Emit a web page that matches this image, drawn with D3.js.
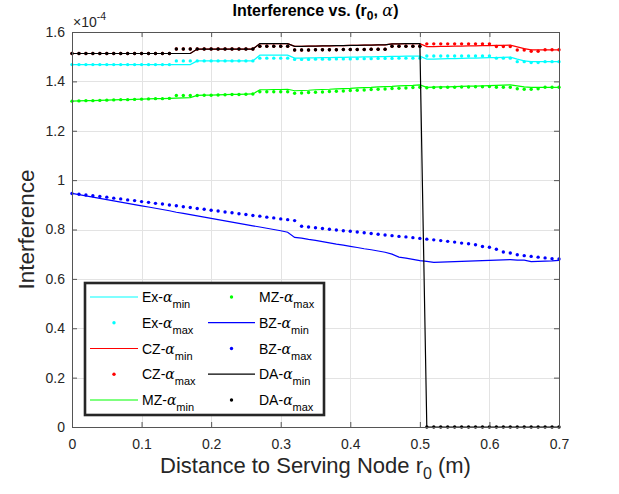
<!DOCTYPE html>
<html>
<head>
<meta charset="utf-8">
<script src="https://cdn.jsdelivr.net/npm/d3@7/dist/d3.min.js"></script>
<style>
  body { margin: 0; background: #fff; }
  svg { display: block; font-family: "Liberation Sans", Arial, Helvetica, sans-serif; }
</style>
</head>
<body>
<div id="chart"></div>
<script>
// distance to serving node r0 (m)
const r0 = [0,0.01,0.02,0.03,0.04,0.05,0.06,0.07,0.08,0.09,0.1,0.11,0.12,0.13,0.14,0.15,0.16,0.17,0.18,0.19,
  0.2,0.21,0.22,0.23,0.24,0.25,0.26,0.27,0.28,0.29,0.3,0.31,0.32,0.33,0.34,0.35,0.36,0.37,0.38,0.39,
  0.4,0.41,0.42,0.43,0.44,0.45,0.46,0.47,0.48,0.49,0.5,0.51,0.52,0.53,0.54,0.55,0.56,0.57,0.58,0.59,
  0.6,0.61,0.62,0.63,0.64,0.65,0.66,0.67,0.68,0.69,0.7];

// interference, units of 1e-4
const exMin = [1.468,1.468,1.468,1.468,1.468,1.468,1.468,1.468,1.468,1.468,1.468,1.468,1.468,1.468,1.468,1.468,1.468,1.468,
  1.483,1.483,1.483,1.483,1.483,1.483,1.483,1.483,1.483,
  1.506,1.506,1.506,1.506,1.506,
  1.494,1.494,1.495,1.495,1.496,1.496,1.497,1.497,1.498,1.498,1.499,1.499,1.500,1.500,1.501,1.501,1.502,1.502,1.502,
  1.490,1.490,1.491,1.492,1.492,1.493,1.494,1.494,1.495,1.496,1.496,1.497,1.498,
  1.490,1.483,
  1.480,1.480,1.480,1.480,1.480];
const exMax = [1.468,1.468,1.468,1.468,1.468,1.468,1.468,1.468,1.468,1.468,1.468,1.468,1.468,1.468,1.468,
  1.483,1.483,1.483,1.483,1.483,1.483,1.483,1.483,1.483,1.483,1.483,1.483,
  1.494,1.494,1.494,1.494,1.494,
  1.489,1.489,1.489,1.490,1.490,1.490,1.491,1.491,1.491,1.492,1.492,1.492,1.493,1.493,1.493,1.494,1.494,1.494,1.494,
  1.503,1.503,1.503,1.503,1.503,1.503,1.503,1.503,1.503,1.503,
  1.494,1.494,1.494,
  1.480,1.480,
  1.476,1.476,
  1.480,1.480,1.480];
const czMin = [1.513,1.513,1.513,1.513,1.513,1.513,1.513,1.513,1.513,1.513,1.513,1.513,1.513,1.513,1.513,1.513,1.513,1.513,
  1.531,1.531,1.531,1.531,1.531,1.531,1.531,1.531,1.531,
  1.553,1.553,1.553,1.553,1.553,
  1.542,1.542,1.543,1.543,1.544,1.544,1.545,1.545,1.546,1.546,1.547,1.547,1.548,1.548,
  1.552,1.552,1.553,1.553,1.553,
  1.541,1.541,1.542,1.542,1.543,1.543,1.544,1.544,1.545,1.545,1.546,1.546,1.547,
  1.540,1.533,
  1.528,1.528,1.528,1.528,1.528];
const czMax = [1.513,1.513,1.513,1.513,1.513,1.513,1.513,1.513,1.513,1.513,1.513,1.513,1.513,1.513,1.513,
  1.531,1.531,1.531,1.531,1.531,1.531,1.531,1.531,1.531,1.531,1.531,1.531,
  1.542,1.542,1.542,1.542,1.542,
  1.527,1.527,1.527,1.528,1.528,1.528,1.528,1.529,1.529,1.529,1.529,1.530,1.530,1.530,
  1.542,1.542,1.542,1.542,1.542,
  1.552,1.552,1.552,1.552,1.552,1.552,1.552,1.552,1.552,1.552,
  1.541,1.541,1.541,
  1.527,1.527,
  1.522,1.522,
  1.528,1.528,1.528];
const mzMin = [1.320,1.321,1.322,1.322,1.323,1.324,1.325,1.326,1.326,1.327,1.328,1.329,1.330,1.330,1.331,1.332,1.333,1.334,
  1.343,1.344,1.344,1.345,1.346,1.347,1.347,1.348,1.349,
  1.366,1.366,1.367,1.367,1.368,
  1.362,1.363,1.364,1.366,1.367,1.368,1.370,1.371,1.372,1.374,1.375,1.376,1.378,1.379,1.380,1.382,1.383,1.384,1.386,
  1.376,1.377,1.378,1.378,1.379,1.380,1.381,1.381,1.382,1.383,1.384,1.385,1.386,
  1.382,1.378,
  1.376,1.376,1.376,1.376,1.376];
const mzMax = [1.320,1.321,1.322,1.322,1.323,1.324,1.325,1.326,1.326,1.327,1.328,1.329,1.330,1.330,1.331,
  1.343,1.343,1.343,
  1.343,1.344,1.344,1.345,1.346,1.347,1.347,1.348,1.349,
  1.358,1.358,1.358,1.358,1.358,
  1.352,1.353,1.355,1.356,1.357,1.359,1.360,1.361,1.363,1.364,1.365,1.367,1.368,1.369,1.371,1.372,1.373,1.375,1.376,
  1.374,1.375,1.375,1.376,1.376,1.377,1.377,1.378,1.378,1.379,
  1.376,1.376,1.376,
  1.370,1.368,1.368,1.370,
  1.376,1.376,1.376];
const bzMin = [0.946,0.941,0.936,0.931,0.926,0.921,0.916,0.911,0.906,0.901,
  0.896,0.891,0.886,0.881,0.876,0.870,0.865,0.860,0.855,0.850,
  0.845,0.840,0.835,0.830,0.825,0.820,0.815,0.810,0.805,0.800,
  0.795,0.789,0.768,0.765,0.760,0.756,0.751,0.746,0.741,0.737,
  0.732,0.727,0.722,0.718,0.713,0.708,0.700,0.688,0.684,0.679,
  0.674,0.671,0.667,0.668,0.669,0.670,0.671,0.672,0.673,0.674,
  0.675,0.676,0.677,0.678,0.676,0.676,0.670,0.671,0.672,0.673,0.675];
const bzMax = [0.946,0.943,0.940,0.937,0.934,0.931,0.927,0.924,0.920,0.917,
  0.913,0.910,0.906,0.903,0.899,0.896,0.892,0.889,0.885,0.882,
  0.878,0.875,0.871,0.868,0.864,0.861,0.857,0.854,0.850,0.847,
  0.843,0.840,0.836,0.813,0.810,0.807,0.804,0.801,0.798,0.795,
  0.793,0.790,0.787,0.784,0.781,0.778,0.775,0.772,0.770,0.767,
  0.764,0.761,0.758,0.755,0.752,0.749,0.745,0.742,0.738,0.731,
  0.728,0.720,0.709,0.705,0.698,0.694,0.691,0.688,0.685,0.682,0.681];
const daMin = [1.513,1.513,1.513,1.513,1.513,1.513,1.513,1.513,1.513,1.513,1.513,1.513,1.513,1.513,1.513,1.513,1.513,1.513,
  1.531,1.531,1.531,1.531,1.531,1.531,1.531,1.531,1.531,
  1.553,1.553,1.553,1.553,1.553,
  1.542,1.542,1.543,1.543,1.544,1.544,1.545,1.545,1.546,1.546,1.547,1.547,1.548,1.548,
  1.552,1.552,1.553,1.553,1.553,
  0,0,0,0,0,0,0,0,0,0,0,0,0,0,0,0,0,0,0,0];
const daMax = [1.513,1.513,1.513,1.513,1.513,1.513,1.513,1.513,1.513,1.513,1.513,1.513,1.513,1.513,1.513,
  1.531,1.531,1.531,1.531,1.531,1.531,1.531,1.531,1.531,1.531,1.531,1.531,
  1.542,1.542,1.542,1.542,1.542,
  1.527,1.527,1.527,1.528,1.528,1.528,1.528,1.529,1.529,1.529,1.529,1.530,1.530,1.530,
  1.542,1.542,1.542,1.542,1.542,
  0,0,0,0,0,0,0,0,0,0,0,0,0,0,0,0,0,0,0,0];

const xTicks = [0, 0.1, 0.2, 0.3, 0.4, 0.5, 0.6, 0.7];
const yTicks = [0, 0.2, 0.4, 0.6, 0.8, 1, 1.2, 1.4, 1.6];

// plot order = legend order, [name, suffix, values, colour, kind]
const series = [
  ["Ex", "min", exMin, "#00ffff", "line"],
  ["Ex", "max", exMax, "#00ffff", "dot"],
  ["CZ", "min", czMin, "#ff0000", "line"],
  ["CZ", "max", czMax, "#ff0000", "dot"],
  ["MZ", "min", mzMin, "#00ff00", "line"],
  ["MZ", "max", mzMax, "#00ff00", "dot"],
  ["BZ", "min", bzMin, "#0000ff", "line"],
  ["BZ", "max", bzMax, "#0000ff", "dot"],
  ["DA", "min", daMin, "#000000", "line"],
  ["DA", "max", daMax, "#000000", "dot"]
];

const W = 619, H = 494;
const m = {left: 72, right: 559, top: 32, bottom: 427};
const ink = "#262626";

let svg = d3.select("#chart").append("svg")
  .attr("width", W)
  .attr("height", H);

let x = d3.scaleLinear().domain([0, 0.7]).range([m.left, m.right]);
let y = d3.scaleLinear().domain([0, 1.6]).range([m.bottom, m.top]);

// grid
let grid = svg.append("g").attr("stroke", "#e3e3e3").attr("stroke-width", 1);
grid.selectAll(".gx").data(xTicks.slice(1, -1)).enter().append("line")
  .attr("x1", d => Math.round(x(d)) + 0.5).attr("x2", d => Math.round(x(d)) + 0.5)
  .attr("y1", m.top).attr("y2", m.bottom);
grid.selectAll(".gy").data(yTicks.slice(1, -1)).enter().append("line")
  .attr("y1", d => Math.round(y(d)) + 0.5).attr("y2", d => Math.round(y(d)) + 0.5)
  .attr("x1", m.left).attr("x2", m.right);

// data
let plot = svg.append("g");
let line = d3.line().x((d, i) => x(r0[i])).y(d => y(d));
series.forEach(s => {
  if (s[4] === "line") {
    plot.append("path")
      .attr("d", line(s[2]))
      .attr("fill", "none")
      .attr("stroke", s[3])
      .attr("stroke-width", 1.2);
  } else {
    plot.append("g").selectAll("circle").data(s[2]).enter().append("circle")
      .attr("cx", (d, i) => x(r0[i]))
      .attr("cy", d => y(d))
      .attr("r", 1.7)
      .attr("fill", s[3]);
  }
});

// axes (box with inward ticks)
let fmt = d => String(d);
let axB = svg.append("g").attr("transform", `translate(0,${m.bottom})`)
  .call(d3.axisBottom(x).tickValues(xTicks).tickFormat(fmt).tickSizeInner(-5).tickSizeOuter(0).tickPadding(12));
let axT = svg.append("g").attr("transform", `translate(0,${m.top})`)
  .call(d3.axisTop(x).tickValues(xTicks).tickFormat("").tickSizeInner(-5).tickSizeOuter(0));
let axL = svg.append("g").attr("transform", `translate(${m.left},0)`)
  .call(d3.axisLeft(y).tickValues(yTicks).tickFormat(fmt).tickSizeInner(-5).tickSizeOuter(0).tickPadding(7));
let axR = svg.append("g").attr("transform", `translate(${m.right},0)`)
  .call(d3.axisRight(y).tickValues(yTicks).tickFormat("").tickSizeInner(-5).tickSizeOuter(0));
[axB, axT, axL, axR].forEach(a => {
  a.select(".domain").attr("stroke", "#555");
  a.selectAll(".tick line").attr("stroke", "#555");
  a.selectAll("text").attr("fill", ink).style("font-size", "14px")
    .style("font-family", "'Liberation Sans', Arial, sans-serif");
});

// exponent
let ex = svg.append("text").attr("x", m.left + 1).attr("y", 27).attr("fill", ink)
  .style("font-size", "14px");
ex.append("tspan").text("×10");
ex.append("tspan").attr("dy", -7).style("font-size", "10.5px").text("-4");

// title
let title = svg.append("text").attr("x", (m.left + m.right) / 2).attr("y", 16)
  .attr("text-anchor", "middle").attr("fill", "#000")
  .style("font-size", "16px").style("font-weight", "bold");
title.append("tspan").text("Interference vs. (r");
title.append("tspan").attr("dy", 4).style("font-size", "12px").text("0");
title.append("tspan").attr("dy", -4).text(", ");
title.append("tspan").style("font-style", "italic").style("font-family", "'DejaVu Serif', serif")
  .style("font-weight", "normal").text("α");
title.append("tspan").text(")");

// axis labels
let xl = svg.append("text").attr("x", (m.left + m.right) / 2).attr("y", 473)
  .attr("text-anchor", "middle").attr("fill", ink).style("font-size", "22px");
xl.append("tspan").text("Distance to Serving Node r");
xl.append("tspan").attr("dy", 6).style("font-size", "16px").text("0");
xl.append("tspan").attr("dy", -6).text(" (m)");

svg.append("text")
  .attr("transform", `translate(34,${(m.top + m.bottom) / 2}) rotate(-90)`)
  .attr("text-anchor", "middle").attr("fill", ink).style("font-size", "22.5px")
  .text("Interference");

// legend
let lg = svg.append("g");
lg.append("rect")
  .attr("x", 85).attr("y", 283).attr("width", 239).attr("height", 132)
  .attr("fill", "#fff").attr("stroke", ink).attr("stroke-width", 2.6);
let rowY = [297, 322.7, 348.5, 374.2, 400];
let cols = [{x0: 90, x1: 138, tx: 142}, {x0: 208, x1: 255, tx: 259}];
series.forEach((s, k) => {
  let c = cols[Math.floor(k / 5)];
  let ry = rowY[k % 5];
  if (s[4] === "line") {
    lg.append("line").attr("x1", c.x0).attr("x2", c.x1).attr("y1", ry).attr("y2", ry)
      .attr("stroke", s[3]).attr("stroke-width", 1.2);
  } else {
    lg.append("circle").attr("cx", (c.x0 + c.x1) / 2).attr("cy", ry).attr("r", 1.7).attr("fill", s[3]);
  }
  let t = lg.append("text").attr("x", c.tx).attr("y", ry + 5).attr("fill", "#000").style("font-size", "14px");
  t.append("tspan").text(s[0] + "-");
  t.append("tspan").style("font-style", "italic").style("font-family", "'DejaVu Serif', serif").text("α");
  t.append("tspan").attr("dy", 6).style("font-size", "11px").text(s[1]);
});
</script>
</body>
</html>
